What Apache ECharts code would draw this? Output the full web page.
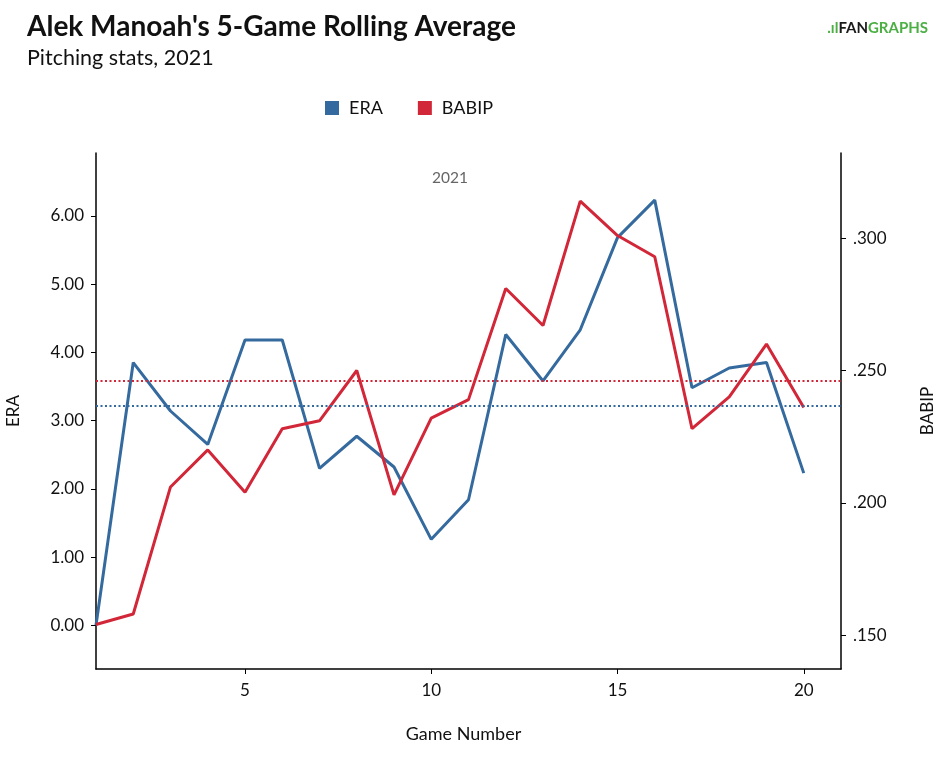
<!DOCTYPE html>
<html>
<head>
<meta charset="utf-8">
<script src="https://cdn.jsdelivr.net/npm/echarts@6/dist/echarts.min.js"></script>
<style>
html,body{margin:0;padding:0;background:#fff;}
#chart{width:950px;height:762px;}
</style>
</head>
<body>
<div id="chart"></div>
<script>
const games = [1,2,3,4,5,6,7,8,9,10,11,12,13,14,15,16,17,18,19,20];
const eraValues = [0.00,3.85,3.14,2.65,4.18,4.18,2.30,2.77,2.32,1.26,1.84,4.26,3.58,4.33,5.68,6.23,3.48,3.77,3.85,2.23];
const babipValues = [0.154,0.158,0.206,0.220,0.204,0.228,0.231,0.250,0.203,0.232,0.239,0.281,0.267,0.314,0.301,0.293,0.228,0.240,0.260,0.236];
const eraMean = 3.22;
const babipMean = 0.2462;
const xTicks = [5,10,15,20];
const eraTicks = [0,1,2,3,4,5,6];
const babipTicks = [0.150,0.200,0.250,0.300];

const BLUE = '#356a9f';
const RED = '#d22738';
const FONT = 'Lato, "Noto Sans", sans-serif';

const chart = echarts.init(document.getElementById('chart'), null, {renderer:'canvas'});
chart.setOption({
  animation: false,
  backgroundColor: '#fff',
  textStyle: {fontFamily: FONT},
  title: [
    {text: "Alek Manoah's 5-Game Rolling Average", left: 22, top: 8,
     textStyle: {fontFamily: FONT, fontSize: 28, fontWeight: 'bold', color: '#111'}},
    {text: 'Pitching stats, 2021', left: 22, top: 42,
     textStyle: {fontFamily: FONT, fontSize: 21.5, fontWeight: 'normal', color: '#111'}}
  ],
  legend: {
    left: 320, top: 94, itemWidth: 14, itemHeight: 14, itemGap: 35, icon: 'rect',
    textStyle: {fontFamily: FONT, fontSize: 18, color: '#111', padding: [0,0,0,5]},
    data: ['ERA','BABIP']
  },
  grid: {left: 96, right: 109, top: 153, bottom: 93, outerBoundsMode: 'none', containLabel: false},
  xAxis: {
    type: 'value', min: 1, max: 21,
    name: 'Game Number', nameLocation: 'middle', nameGap: 56,
    nameTextStyle: {fontFamily: FONT, fontSize: 18, color: '#111', padding: [0,10,0,0]},
    axisLine: {show: true, onZero: false, lineStyle: {color: '#000', width: 1.5}},
    axisTick: {show: true, length: 5, customValues: xTicks, lineStyle: {color: '#000'}},
    axisLabel: {customValues: xTicks, fontFamily: FONT, fontSize: 17, color: '#111', margin: 13},
    splitLine: {show: false}
  },
  yAxis: [
    {
      type: 'value', min: -0.64, max: 6.92, position: 'left',
      name: 'ERA', nameLocation: 'middle', nameGap: 74, nameRotate: 90,
      nameTextStyle: {fontFamily: FONT, fontSize: 17, color: '#111'},
      axisLine: {show: true, onZero: false, lineStyle: {color: '#000', width: 1.5}},
      axisTick: {show: true, length: 5, customValues: eraTicks, lineStyle: {color: '#000'}},
      axisLabel: {customValues: eraTicks, fontFamily: FONT, fontSize: 17, color: '#111', margin: 12,
        formatter: v => v.toFixed(2)},
      splitLine: {show: false}
    },
    {
      type: 'value', min: 0.1372, max: 0.3322, position: 'right',
      name: 'BABIP', nameLocation: 'middle', nameGap: 78, nameRotate: 90,
      nameTextStyle: {fontFamily: FONT, fontSize: 17, color: '#111'},
      axisLine: {show: true, onZero: false, lineStyle: {color: '#000', width: 1.5}},
      axisTick: {show: true, length: 5, customValues: babipTicks, lineStyle: {color: '#000'}},
      axisLabel: {customValues: babipTicks, fontFamily: FONT, fontSize: 17, color: '#111', margin: 12,
        formatter: v => v.toFixed(3).replace(/^0/, '')},
      splitLine: {show: false}
    }
  ],
  graphic: [
    {type: 'text', left: 432, top: 170,
     style: {text: '2021', font: '15.5px ' + FONT, fill: '#666'}},
    {type: 'text', right: 22, top: 21,
     style: {rich: {
        a: {fontFamily: FONT, fontSize: 15, fontWeight: 'bold', fill: '#4caf43'},
        b: {fontFamily: FONT, fontSize: 15, fontWeight: 'bold', fill: '#1a1a1a'},
        c: {fontFamily: FONT, fontSize: 15, fontWeight: 'bold', fill: '#4caf43'}
      }, text: '{a|.ıl}{b|FAN}{c|GRAPHS}'}}
  ],
  series: [
    {
      name: 'ERA', type: 'line', yAxisIndex: 0,
      data: games.map((g,i) => [g, eraValues[i]]),
      showSymbol: false, symbol: 'none',
      lineStyle: {color: BLUE, width: 3}, itemStyle: {color: BLUE},
      markLine: {silent: true, symbol: 'none', precision: 4, label: {show: false},
        lineStyle: {color: BLUE, width: 2, type: [2, 2.5]},
        data: [{yAxis: eraMean}]}
    },
    {
      name: 'BABIP', type: 'line', yAxisIndex: 1,
      data: games.map((g,i) => [g, babipValues[i]]),
      showSymbol: false, symbol: 'none',
      lineStyle: {color: RED, width: 3}, itemStyle: {color: RED},
      markLine: {silent: true, symbol: 'none', precision: 4, label: {show: false},
        lineStyle: {color: RED, width: 2, type: [2, 2.5]},
        data: [{yAxis: babipMean}]}
    }
  ]
});
</script>
</body>
</html>
